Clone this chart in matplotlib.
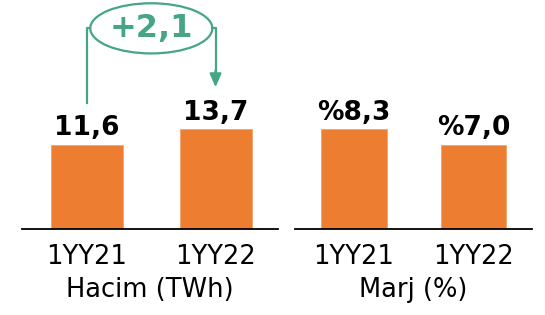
import matplotlib
matplotlib.use('Agg')
import matplotlib.pyplot as plt
from matplotlib.patches import Ellipse

# veriler
donem = ['1YY21', '1YY22']
hacim = [11.6, 13.7]        # TWh
marj = [8.3, 7.0]           # %
fark = '+2,1'
baslik_sol = 'Hacim (TWh)'
baslik_sag = 'Marj (%)'

turuncu = '#ED7D31'
yesil = '#45A585'

plt.rcParams['font.family'] = ['DejaVu Sans']

fig = plt.figure(figsize=(5.45, 3.15), dpi=100)
W, H = 545., 315.
taban = 229.   # eksen cizgisi (px, ustten)

def eksen(x0, x1, ust):
    return fig.add_axes([x0 / W, (H - taban) / H, (x1 - x0) / W, taban / H],
                        ylim=(0, ust))

ax1 = eksen(22, 278, taban / 7.27)
ax2 = eksen(295, 532, taban / 12.0)

def ciz(ax, degerler, etiketler, baslik, gen, xlim):
    x = range(len(degerler))
    ax.bar(x, degerler, width=gen, color=turuncu, edgecolor='#F4A26B', linewidth=0.6)
    for xi, v, t in zip(x, degerler, etiketler):
        ax.annotate(t, (xi, v), xytext=(0, 7), textcoords='offset points',
                    ha='center', va='baseline', fontsize=19, fontweight='bold')
    ax.set_xlim(*xlim)
    ax.set_xticks(list(x))
    ax.set_xticklabels(donem, fontsize=18.5)
    ax.tick_params(axis='x', length=0, pad=11)
    ax.set_yticks([])
    for s in ['top', 'left', 'right']:
        ax.spines[s].set_visible(False)
    ax.spines['bottom'].set_linewidth(1.3)
    ax.set_xlabel(baslik, fontsize=18.5, labelpad=5)
    ax.patch.set_alpha(0)

ciz(ax1, hacim, [f'{v:.1f}'.replace('.', ',') for v in hacim], baslik_sol, 0.56, (-0.506, 1.486))
ciz(ax2, marj, ['%' + f'{v:.1f}'.replace('.', ',') for v in marj], baslik_sag, 0.55, (-0.494, 1.49))

# fark gostergesi
yk = 27.6
ax1.plot([0, 0, 0.5 - 0.475], [17.3, yk, yk], color=yesil, lw=1.6, clip_on=False)
ax1.plot([0.5 + 0.475, 1.0, 1.0], [yk, yk, 21.5], color=yesil, lw=1.6, clip_on=False)
ax1.annotate('', xy=(1.0, 19.5), xytext=(1.0, 21.8),
             arrowprops=dict(arrowstyle='-|>,head_width=0.35,head_length=0.8',
                             color=yesil, lw=1.6, shrinkA=0, shrinkB=0),
             annotation_clip=False)
ax1.add_patch(Ellipse((0.5, yk), 0.95, 6.9, fill=False, edgecolor=yesil, lw=1.6, clip_on=False))
ax1.text(0.5, yk, fark, ha='center', va='center', fontsize=23, fontweight='bold', color=yesil)

plt.savefig('out.png', dpi=100)
